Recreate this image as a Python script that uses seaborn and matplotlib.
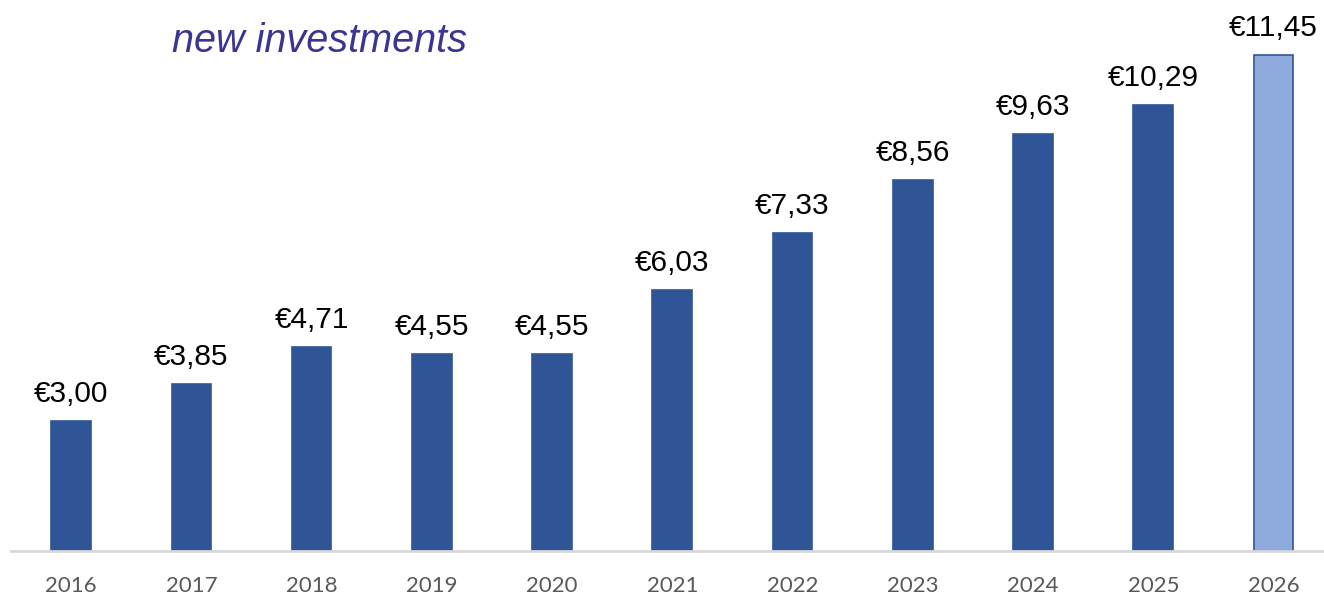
import matplotlib
matplotlib.use("Agg")
import matplotlib.pyplot as plt
import seaborn as sns
import pandas as pd

years = ["2016", "2017", "2018", "2019", "2020", "2021", "2022", "2023", "2024", "2025", "2026"]
values = [3.00, 3.85, 4.71, 4.55, 4.55, 6.03, 7.33, 8.56, 9.63, 10.29, 11.45]
value_labels = ["€3,00", "€3,85", "€4,71", "€4,55", "€4,55", "€6,03", "€7,33", "€8,56", "€9,63", "€10,29", "€11,45"]
bar_colors = ["#2F5597"] * 10 + ["#8FAADC"]

df = pd.DataFrame({"year": years, "value": values})

sns.set_style("white")
plt.rcParams["font.family"] = ["Liberation Sans", "DejaVu Sans"]

fig = plt.figure(figsize=(13.24, 5.95), dpi=100)
ax = fig.add_axes([11 / 1324, 44 / 595, 1 - 11 / 1324, 551 / 595])

sns.barplot(data=df, x="year", y="value", hue="year", palette=bar_colors,
            width=0.33, legend=False, ax=ax, saturation=1)
for patch in ax.patches:
    patch.set_edgecolor("#2F5597")
    patch.set_linewidth(1.2)

# value labels above bars
for i, (v, lab) in enumerate(zip(values, value_labels)):
    ax.text(i, v + 0.44, lab, ha="center", va="baseline", fontsize=21.5, color="black")

ax.set_xlim(-0.5, 10.42)
ax.set_ylim(0, 12.72)
ax.set_xlabel("")
ax.set_ylabel("")
ax.set_yticks([])
for s in ["top", "right", "left"]:
    ax.spines[s].set_visible(False)
ax.spines["bottom"].set_color("#D9D9D9")
ax.spines["bottom"].set_linewidth(2)
ax.tick_params(axis="x", length=0, pad=18, labelsize=16, labelcolor="#595959")
for t in ax.get_xticklabels():
    t.set_fontfamily(["Lato", "DejaVu Sans"])

fig.text(172 / 1324, 1 - 52 / 595, "new investments", fontsize=28.5, style="italic",
         color="#3A3592", ha="left", va="baseline")

fig.savefig("out.png", dpi=100)
